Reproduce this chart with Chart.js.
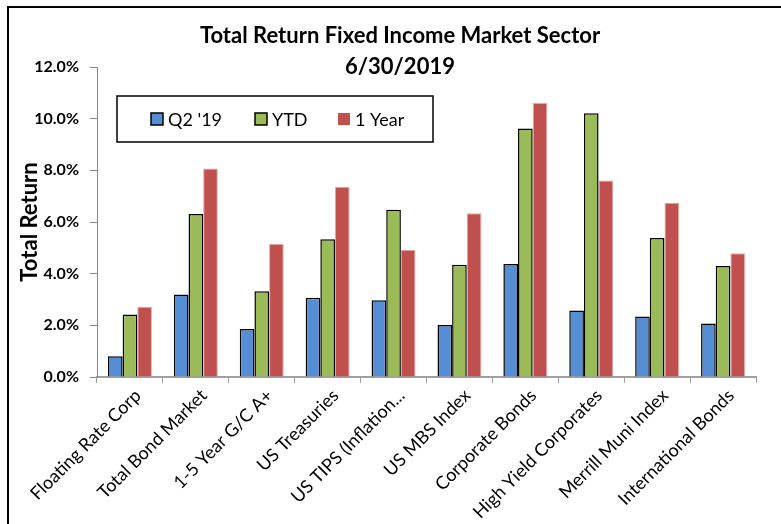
<!DOCTYPE html>
<html>
<head>
<meta charset="utf-8">
<script src="https://cdn.jsdelivr.net/npm/chart.js@4.4.1/dist/chart.umd.min.js"></script>
<style>
  html, body { margin: 0; padding: 0; background: #fff; }
</style>
</head>
<body>
<canvas id="chart" width="781" height="524"></canvas>
<script>
const categories = ['Floating Rate Corp', 'Total Bond Market', '1-5 Year G/C A+', 'US Treasuries', 'US TIPS (Inflation...',
  'US MBS Index', 'Corporate Bonds', 'High Yield Corporates', 'Merrill Muni Index', 'International Bonds'];
const seriesNames = ["Q2 '19", 'YTD', '1 Year'];
const q2Values = [0.80, 3.19, 1.86, 3.07, 2.97, 2.01, 4.37, 2.57, 2.34, 2.07];
const ytdValues = [2.42, 6.31, 3.32, 5.33, 6.47, 4.35, 9.62, 10.21, 5.38, 4.30];
const oneYearValues = [2.72, 8.07, 5.15, 7.36, 4.93, 6.34, 10.61, 7.61, 6.75, 4.79];
const yTicks = [0, 2, 4, 6, 8, 10, 12];
const titleLines = ['Total Return Fixed Income Market Sector', '6/30/2019'];

const FONT = 'Lato';

// outer frame, title and boxed legend, drawn the way the spreadsheet does it
const decor = {
  id: 'decor',
  beforeDraw(chart) {
    const ctx = chart.ctx;
    ctx.save();
    ctx.fillStyle = '#fff';
    ctx.fillRect(0, 0, chart.width, chart.height);
    ctx.strokeStyle = '#000';
    ctx.lineWidth = 2;
    ctx.strokeRect(8, 7, chart.width + 20, chart.height + 20);
    ctx.restore();
  },
  afterDraw(chart) {
    const ctx = chart.ctx;
    ctx.save();
    ctx.fillStyle = '#000';
    ctx.textAlign = 'center';
    ctx.textBaseline = 'middle';
    ctx.font = 'bold 22px ' + FONT;
    ctx.fillText(titleLines[0], 400, 36);
    ctx.fillText(titleLines[1], 400, 67);

    // legend
    ctx.strokeStyle = '#000';
    ctx.lineWidth = 1.5;
    ctx.strokeRect(117, 96, 316, 46);
    const xs = [151, 255, 338];
    ctx.font = '18px ' + FONT;
    ctx.textAlign = 'left';
    chart.data.datasets.forEach((ds, i) => {
      ctx.fillStyle = ds.backgroundColor;
      ctx.fillRect(xs[i], 113, 12, 12);
      if (ds.borderColor === '#000') {
        ctx.lineWidth = 1.5;
        ctx.strokeRect(xs[i], 113, 12, 12);
      }
      ctx.fillStyle = '#000';
      ctx.fillText(ds.label, xs[i] + 17, 120);
    });
    ctx.restore();
  }
};

new Chart(document.getElementById('chart'), {
  type: 'bar',
  data: {
    labels: categories,
    datasets: [
      { label: seriesNames[0], data: q2Values, backgroundColor: '#558ed5', borderColor: '#000', borderWidth: 1.5 },
      { label: seriesNames[1], data: ytdValues, backgroundColor: '#9bbb59', borderColor: '#000', borderWidth: 1.5 },
      { label: seriesNames[2], data: oneYearValues, backgroundColor: '#c0504d', borderColor: '#e6a6a4', borderWidth: 1 }
    ]
  },
  options: {
    responsive: false,
    animation: false,
    categoryPercentage: 0.667,
    barPercentage: 1.0,
    layout: { padding: { left: 8, top: 67, right: 25, bottom: 0 } },
    plugins: {
      legend: { display: false },
      title: { display: false },
      tooltip: { enabled: false }
    },
    scales: {
      x: {
        grid: { drawOnChartArea: false, offset: true, tickLength: 6, color: '#a0a0a0' },
        border: { color: '#a0a0a0', width: 2 },
        ticks: {
          maxRotation: 45, minRotation: 45, autoSkip: false, padding: 2, labelOffset: 8,
          color: '#000', font: { family: FONT, size: 18 }
        },
        afterFit(s) { s.height = 147; }
      },
      y: {
        min: 0, max: 12,
        afterBuildTicks(s) { s.ticks = yTicks.map(v => ({ value: v })); },
        grid: { drawOnChartArea: false, tickLength: 7, color: '#888' },
        border: { color: '#888', width: 1 },
        ticks: {
          padding: 11, color: '#000', font: { family: FONT, size: 16, weight: 'bold' },
          callback: v => v.toFixed(1) + '%'
        },
        title: {
          display: true, text: 'Total Return', color: '#000',
          font: { family: FONT, size: 22, weight: 'bold' }, padding: { top: 9, bottom: 0 }
        },
        afterFit(s) { s.width = 89; }
      }
    }
  },
  plugins: [decor]
});
</script>
</body>
</html>
